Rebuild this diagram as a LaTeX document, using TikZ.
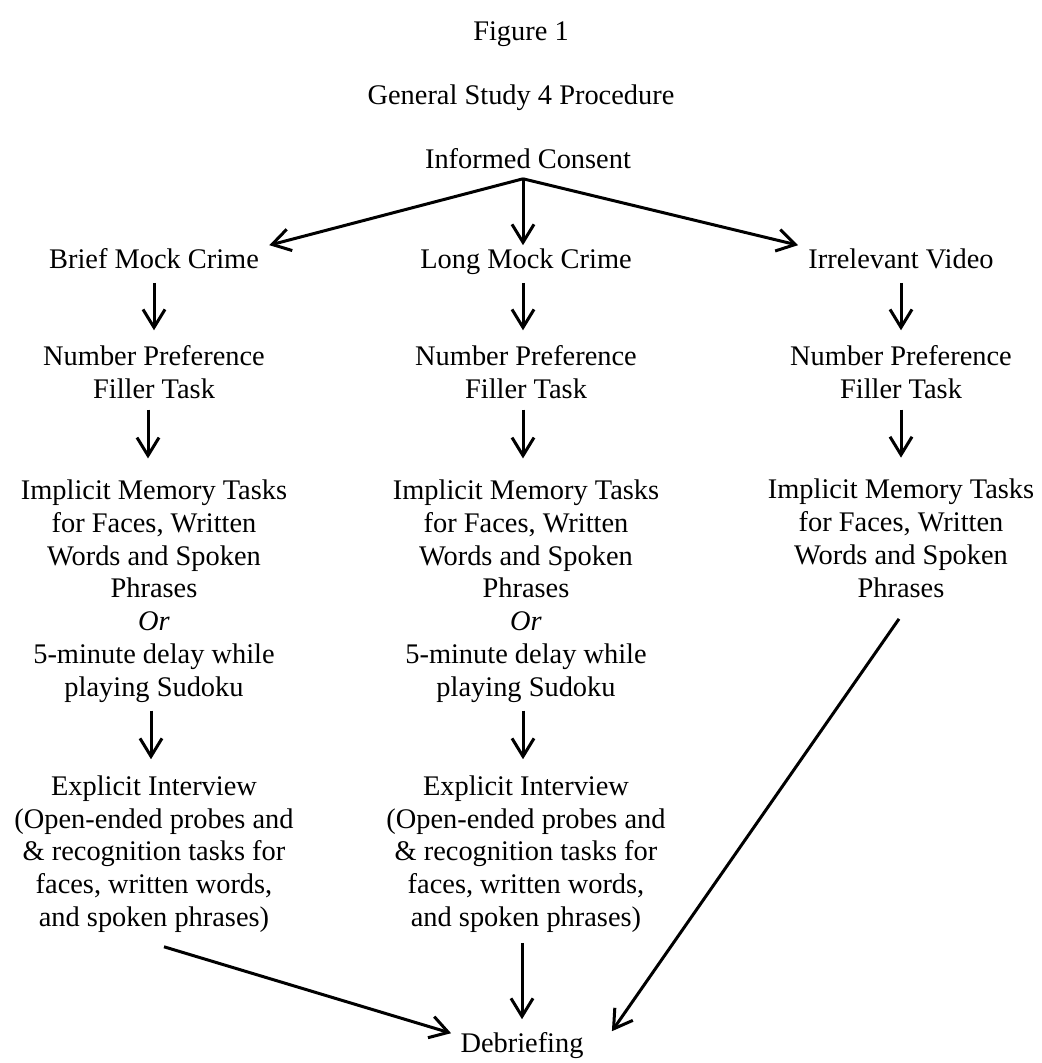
\documentclass[tikz,border=0pt]{standalone}
\usepackage{fontspec}
\setmainfont{Liberation Serif}
\usetikzlibrary{arrows.meta,positioning}
\tikzset{
  steptext/.style={align=center, inner sep=0pt, font=\fontsize{14.2}{16.4}\selectfont,
    execute at begin node=\strut, execute at end node=\strut},
  flow/.style={-{Straight Barb[length=9pt,width=11pt]}, line width=1.5pt},
  vflow/.style={flow, shorten <=2pt, shorten >=7.5pt},
}

\begin{document}
\begin{tikzpicture}[x=0.5pt, y=-0.5pt]
  \useasboundingbox (0,0) rectangle (1041,1063);

  \node[steptext] (fig) at (521,34) {Figure 1};
  \node[steptext] (ttl) at (521,98) {General Study 4 Procedure};
  \node[steptext] (consent) at (528,162) {Informed Consent};

  \node[steptext] (brief) at (154,262) {Brief Mock Crime};
  \node[steptext] (long) at (526,262) {Long Mock Crime};
  \node[steptext] (video) at (901,262) {Irrelevant Video};
  \draw[flow] ([xshift=-2.5pt]consent.south) -- ([xshift=5pt]brief.north east);
  \draw[flow] ([xshift=-2.5pt]consent.south) -- ([xshift=-1.5pt]long.north);
  \draw[flow] ([xshift=-2.5pt]consent.south) -- ([xshift=-5pt]video.north west);

  \foreach \c/\x in {L/154, M/526, R/901} {
    \node[steptext] (num\c) at (\x,377) {Number Preference\\Filler Task};
  }
  \draw[vflow] (brief) -- (numL);
  \draw[vflow] ([xshift=-1.5pt]long.south) -- ([xshift=-1.5pt]numM.north);
  \draw[vflow] (video) -- (numR);

  \foreach \c/\x in {L/154, M/526} {
    \node[steptext] (impl\c) at (\x,593) {Implicit Memory Tasks\\for Faces, Written\\Words and Spoken\\Phrases\\\textit{Or}\\5-minute delay while\\playing Sudoku};
  }
  \node[steptext] (implR) at (901,543) {Implicit Memory Tasks\\for Faces, Written\\Words and Spoken\\Phrases};
  \draw[vflow, shorten <=0.5pt, shorten >=10.5pt] ([xshift=-3pt]numL.south) -- ([xshift=-3pt]implL.north);
  \draw[vflow, shorten <=0.5pt, shorten >=10.5pt] ([xshift=-1.5pt]numM.south) -- ([xshift=-1.5pt]implM.north);
  \draw[vflow, shorten <=0.5pt, shorten >=10.5pt] (numR) -- (implR);

  \foreach \c/\x in {L/154, M/526} {
    \node[steptext] (expl\c) at (\x,856) {Explicit Interview\\(Open-ended probes and\\\& recognition tasks for\\faces, written words,\\and spoken phrases)};
    \draw[vflow, shorten >=8pt] ([xshift=-1.5pt]impl\c.south) -- ([xshift=-1.5pt]expl\c.north);
  }

  \node[steptext] (debrief) at (522,1046) {Debriefing};
  \draw[flow] ([xshift=5pt,yshift=-5pt]explL.south) -- ([xshift=-4.5pt,yshift=-2pt]debrief.north west);
  \draw[vflow, shorten <=3pt, shorten >=5pt] (debrief.north |- explM.south) -- (debrief);
  \draw[flow, shorten <=7pt] ([xshift=3pt]implR.south) -- ([xshift=14pt,yshift=-1pt]debrief.north east);
\end{tikzpicture}
\end{document}
